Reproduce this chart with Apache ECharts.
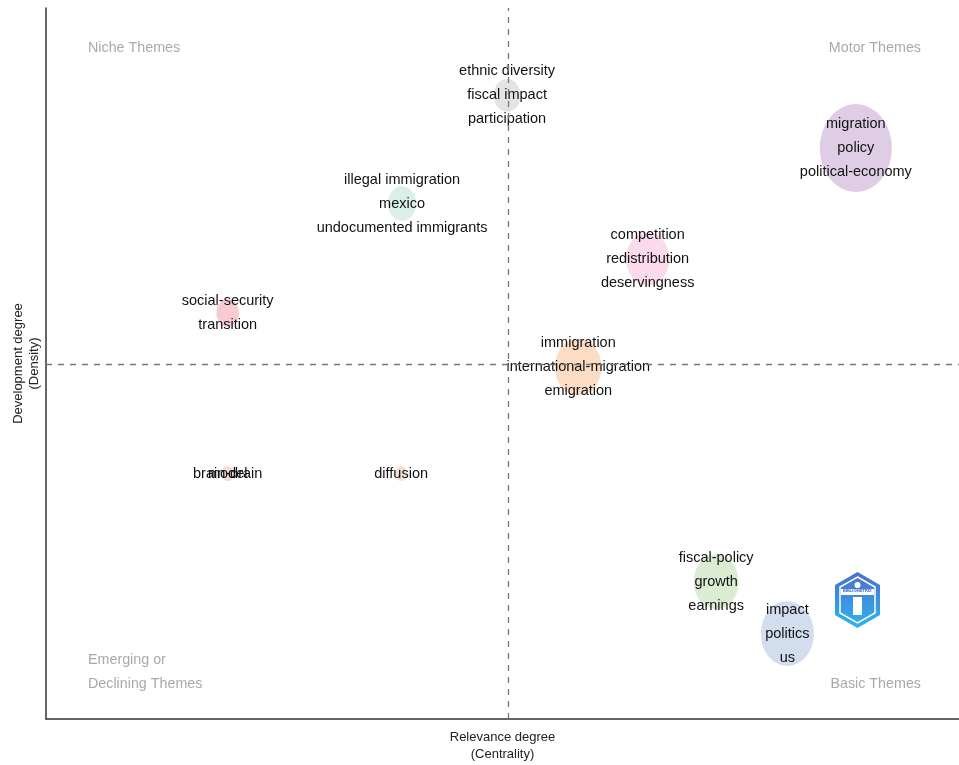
<!DOCTYPE html>
<html>
<head>
<meta charset="utf-8">
<script src="https://cdn.jsdelivr.net/npm/echarts@6/dist/echarts.min.js"></script>
<style>html,body{margin:0;padding:0;background:#fff}#chart{width:959px;height:765px}</style>
</head>
<body>
<div id="chart"></div>
<script>
// cluster labels (words of each theme)
const clusterLabels = [
  ['ethnic diversity', 'fiscal impact', 'participation'],
  ['migration', 'policy', 'political-economy'],
  ['illegal immigration', 'mexico', 'undocumented immigrants'],
  ['competition', 'redistribution', 'deservingness'],
  ['social-security', 'transition'],
  ['immigration', 'international-migration', 'emigration'],
  ['brain-drain'],
  ['model'],
  ['diffusion'],
  ['fiscal-policy', 'growth', 'earnings'],
  ['impact', 'politics', 'us']
];
// centrality (x) and density (y), arbitrary rank units
const centrality = [5.05, 8.87, 3.90, 6.59, 1.99, 5.83, 1.99, 1.99, 3.89, 7.34, 8.12];
const density    = [8.77, 8.03, 7.25, 6.47, 5.71, 4.95, 3.45, 3.45, 3.45, 1.93, 1.20];
const freq       = [10, 72, 11, 26, 7, 30, 2, 2, 2, 28, 39];
const bubbleColors = ['#e4e4e4', '#dfcde5', '#dcefe6', '#fadaec', '#f7cbd1', '#fcdcc2',
                      '#f5d7d7', '#f3dcdc', '#f2dfd2', '#dcecd3', '#d2ddee'];
const meanCentrality = 5.06;
const meanDensity = 4.99;
const quadrantNames = ['Niche Themes', 'Motor Themes', 'Emerging or\nDeclining Themes', 'Basic Themes'];

const data = clusterLabels.map((words, i) => {
  const w = 8.5 * Math.sqrt(freq[i]);
  return {
    value: [centrality[i], density[i]],
    symbolSize: [w, w * 1.22],
    itemStyle: { color: bubbleColors[i], opacity: 1 },
    label: { formatter: words.join('\n') }
  };
});

const chart = echarts.init(document.getElementById('chart'));
const qStyle = { fill: '#a9a9a9', fontSize: 14.3, fontFamily: 'Liberation Sans, Arial', lineHeight: 24 };
chart.setOption({
  animation: false,
  grid: { left: 46, right: 0, top: 8, bottom: 46, outerBoundsMode: 'none', containLabel: false },
  xAxis: {
    type: 'value', min: 0, max: 10,
    name: 'Relevance degree\n(Centrality)', nameLocation: 'middle', nameGap: 10,
    nameTextStyle: { color: '#222', fontSize: 13, lineHeight: 17, fontFamily: 'Liberation Sans, Arial' },
    axisLine: { show: true, lineStyle: { color: '#333', width: 1.5 } },
    axisTick: { show: false }, axisLabel: { show: false }, splitLine: { show: false }
  },
  yAxis: {
    type: 'value', min: 0, max: 10,
    name: 'Development degree\n(Density)', nameLocation: 'middle', nameGap: 4,
    nameTextStyle: { color: '#222', fontSize: 13, lineHeight: 16, fontFamily: 'Liberation Sans, Arial' },
    axisLine: { show: true, lineStyle: { color: '#333', width: 1.5 } },
    axisTick: { show: false }, axisLabel: { show: false }, splitLine: { show: false }
  },
  series: [{
    type: 'scatter',
    data: data,
    itemStyle: { opacity: 1 },
    label: {
      show: true, position: 'inside', color: '#111', fontSize: 14.5, lineHeight: 24,
      fontFamily: 'Liberation Sans, Arial', opacity: 1
    },
    labelLayout: { hideOverlap: false },
    emphasis: { disabled: true },
    markLine: {
      silent: true, symbol: 'none', label: { show: false },
      lineStyle: { color: '#777', type: [6, 6], width: 1.3 },
      data: [{ xAxis: meanCentrality }, { yAxis: meanDensity }]
    }
  }],
  graphic: [
    { type: 'text', left: 88, top: 36, style: Object.assign({ text: quadrantNames[0] }, qStyle) },
    { type: 'text', right: 38, top: 36, style: Object.assign({ text: quadrantNames[1] }, qStyle) },
    { type: 'text', left: 88, top: 648, style: Object.assign({ text: quadrantNames[2] }, qStyle) },
    { type: 'text', right: 38, top: 672, style: Object.assign({ text: quadrantNames[3] }, qStyle) },
    {
      type: 'group', left: 835, top: 572,
      children: [
        { type: 'polygon', shape: { points: [[22.5, 0], [45, 13], [45, 43], [22.5, 56], [0, 43], [0, 13]] },
          style: { fill: new echarts.graphic.LinearGradient(0, 0, 0, 1, [{ offset: 0, color: '#4a6fd0' }, { offset: 1, color: '#2fb4ef' }]) } },
        { type: 'polygon', shape: { points: [[22.5, 5], [40, 15], [40, 41], [22.5, 51], [5, 41], [5, 15]] },
          style: { fill: 'none', stroke: '#ffffff', lineWidth: 1.5 } },
        { type: 'rect', shape: { x: 6, y: 17, width: 33, height: 6 }, style: { fill: '#ffffff' } },
        { type: 'text', left: 8, top: 17, style: { text: 'BIBLIOMETRIX', fontSize: 4, fill: '#3a5cc0', fontWeight: 'bold' } },
        { type: 'rect', shape: { x: 18, y: 25, width: 9, height: 18 }, style: { fill: '#ffffff' } },
        { type: 'circle', shape: { cx: 22.5, cy: 13, r: 3 }, style: { fill: '#ffffff' } }
      ]
    }
  ]
});
</script>
</body>
</html>
